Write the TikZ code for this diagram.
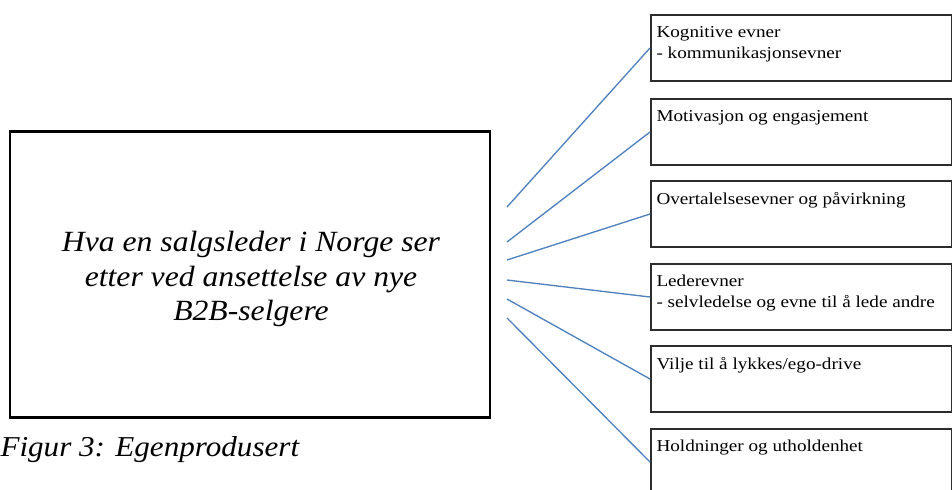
\documentclass[tikz,border=0pt]{standalone}
\usepackage{fontspec}
\setmainfont{Liberation Serif}
\newfontfamily\leadfont[FakeStretch=1.08]{Liberation Serif}
\newfontfamily\catfont[FakeStretch=1.15]{Liberation Serif}
\usetikzlibrary{positioning}

\definecolor{linkblue}{RGB}{79,129,189}
\definecolor{boxgrey}{RGB}{45,45,45}

\tikzset{every picture/.style={line width=0.75pt}}
\tikzset{
  mainbox/.style={draw=black, line width=2.2pt, minimum width=360pt, minimum height=215pt, inner sep=0pt},
  leadtext/.style={inner sep=0pt, align=center, font=\fontsize{22}{25.8}\leadfont\itshape},
  catbox/.style={draw=boxgrey, line width=1.5pt, minimum width=225.75pt, minimum height=49.5pt, inner sep=0pt, anchor=north west},
  cattext/.style={anchor=north west, inner sep=0pt, align=left, font=\fontsize{12.5}{15.75}\catfont},
  link/.style={draw=linkblue, line width=1pt},
  figcap/.style={anchor=base west, inner sep=0pt, font=\fontsize{21.6}{25}\leadfont\itshape}
}

\begin{document}
\begin{tikzpicture}[x=0.75pt,y=0.75pt,yscale=-1,xscale=1]
	\useasboundingbox (0,0) rectangle (952,489);

	%Shape: main box
	\node [mainbox] (lead) at (250,274.5) {};
	% Text Node
	\node [leadtext] (leadtxt) at (251,279) {Hva en salgsleder i Norge ser\\etter ved ansettelse av nye\\B2B-selgere};

	% Text Node
	\node [figcap] (fig) at (0,456) {Figur 3: Egenprodusert};

	%Shape: category boxes
	\node [catbox] (b1) at (650,14) {};
	\node [catbox] (b2) at (650,98) {};
	\node [catbox] (b3) at (650,180) {};
	\node [catbox] (b4) at (650,263) {};
	\node [catbox] (b5) at (650,345) {};
	\node [catbox] (b6) at (650,428) {};

	% Text Node
	\node [cattext] (t1) at (656,25.5) {Kognitive evner\\- kommunikasjonsevner};
	\node [cattext] (t2) at (656,109.5) {Motivasjon og engasjement};
	\node [cattext] (t3) at (656,191.5) {Overtalelsesevner og påvirkning};
	\node [cattext] (t4) at (656,274.5) {Lederevner\\- selvledelse og evne til å lede andre};
	\node [cattext] (t5) at (656,356.5) {Vilje til å lykkes/ego-drive};
	\node [cattext] (t6) at (656,439.5) {Holdninger og utholdenhet};

	%Straight Lines: connectors
	\coordinate (s1) at (507,207);
	\coordinate (s2) at (507,242);
	\coordinate (s3) at (507,260);
	\coordinate (s4) at (507,280);
	\coordinate (s5) at (507,299);
	\coordinate (s6) at (507,318);
	\draw [link] (s1) -- (b1.west);
	\draw [link] (s2) -- (b2.west);
	\draw [link] (s3) -- (b3.west);
	\draw [link] (s4) -- (b4.west);
	\draw [link] (s5) -- (b5.west);
	\draw [link] (s6) -- (b6.west);

\end{tikzpicture}
\end{document}
